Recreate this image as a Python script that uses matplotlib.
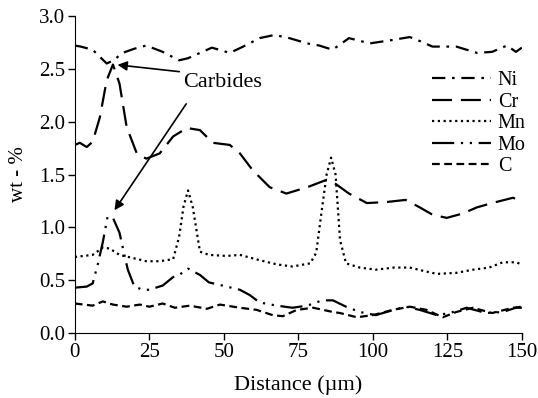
import matplotlib
matplotlib.use("Agg")
import matplotlib.pyplot as plt

plt.rcParams['font.family'] = ['Liberation Serif', 'DejaVu Serif']

ni_x = [0, 2, 6, 10.7, 13, 16, 20, 24, 29.5, 35, 38, 42, 46, 52, 56.5, 62, 67, 72, 78, 82, 86.5, 92, 99, 106, 112.4, 116, 120, 128, 135, 140, 145, 148, 150]
ni_y = [2.72, 2.71, 2.68, 2.55, 2.58, 2.65, 2.69, 2.72, 2.66, 2.58, 2.60, 2.65, 2.70, 2.65, 2.71, 2.79, 2.82, 2.79, 2.74, 2.72, 2.68, 2.79, 2.74, 2.77, 2.80, 2.76, 2.71, 2.71, 2.65, 2.66, 2.72, 2.66, 2.70]

cr_x = [0, 1.7, 4, 6, 8.4, 10.7, 12.8, 15, 17.4, 20.8, 24, 28.5, 33, 37.6, 42, 46.3, 52, 55.4, 59.7, 65.4, 71, 78, 84.5, 86.6, 92, 98, 104.6, 111, 115.7, 120, 124.8, 130, 135, 140, 147, 150]
cr_y = [1.78, 1.80, 1.76, 1.81, 2.04, 2.39, 2.54, 2.36, 1.95, 1.70, 1.65, 1.70, 1.86, 1.94, 1.92, 1.80, 1.78, 1.70, 1.54, 1.38, 1.32, 1.38, 1.45, 1.43, 1.32, 1.23, 1.24, 1.26, 1.19, 1.12, 1.09, 1.13, 1.19, 1.23, 1.28, 1.25]

mn_x = [0, 6, 9.4, 11.7, 15, 19.5, 24, 28.5, 33, 35, 36.5, 38, 39.6, 42, 45, 51, 55.4, 62, 67.8, 73, 79, 81, 83, 84.5, 86, 87.5, 89, 91, 95.6, 101, 107, 112.4, 116.8, 121.5, 128, 133.6, 139, 143.6, 148, 150]
mn_y = [0.72, 0.74, 0.81, 0.80, 0.74, 0.71, 0.68, 0.68, 0.70, 0.91, 1.20, 1.35, 1.19, 0.77, 0.74, 0.73, 0.74, 0.69, 0.65, 0.63, 0.66, 0.76, 1.19, 1.50, 1.66, 1.50, 0.88, 0.66, 0.62, 0.60, 0.62, 0.62, 0.59, 0.56, 0.57, 0.60, 0.62, 0.67, 0.67, 0.65]

mo_x = [0, 4, 6, 7.8, 9.4, 11, 12.8, 15, 16.8, 17.8, 20, 22.8, 25, 29.5, 33, 35, 38, 42, 45, 51, 55.4, 58.7, 62, 67.8, 73, 78, 83, 86.6, 91, 95.6, 101, 104.6, 111, 115.7, 121.5, 125.8, 131.5, 138, 143.6, 148, 150]
mo_y = [0.43, 0.44, 0.47, 0.66, 0.86, 1.10, 1.09, 0.95, 0.72, 0.60, 0.44, 0.41, 0.41, 0.45, 0.53, 0.55, 0.61, 0.55, 0.48, 0.44, 0.41, 0.36, 0.29, 0.26, 0.24, 0.26, 0.31, 0.31, 0.25, 0.20, 0.17, 0.20, 0.25, 0.22, 0.17, 0.19, 0.24, 0.19, 0.20, 0.24, 0.24]

c_x = [0, 6, 9.4, 12.8, 17.4, 21.8, 25, 29.5, 33.6, 38.6, 44.3, 48.7, 55.4, 61, 66.4, 69.8, 74.5, 80, 86.6, 89, 94.6, 100, 106.7, 112.4, 118, 123.5, 128, 133.6, 140, 147, 150]
c_y = [0.28, 0.26, 0.30, 0.27, 0.25, 0.27, 0.25, 0.28, 0.24, 0.26, 0.23, 0.27, 0.24, 0.22, 0.17, 0.16, 0.22, 0.24, 0.20, 0.19, 0.15, 0.17, 0.22, 0.25, 0.22, 0.15, 0.20, 0.24, 0.19, 0.24, 0.25]

x_ticks = [0, 25, 50, 75, 100, 125, 150]
y_ticks = [0.0, 0.5, 1.0, 1.5, 2.0, 2.5, 3.0]
y_tick_labels = ['0.0', '0.5', '1.0', '1.5', '2.0', '2.5', '3.0']

fig = plt.figure(figsize=(5.38, 3.98), dpi=100)
ax = fig.add_axes([0.139, 0.163, 0.831, 0.797])

lw = 1.6
ax.plot(ni_x, ni_y, color='black', lw=lw, linestyle=(0, (6, 3, 1.2, 3)), label='Ni')
ax.plot(cr_x, cr_y, color='black', lw=lw, linestyle=(0, (9, 4)), label='Cr')
ax.plot(mn_x, mn_y, color='black', lw=lw, linestyle=(0, (1, 1.6)), label='Mn')
ax.plot(mo_x, mo_y, color='black', lw=lw, linestyle=(0, (10, 3, 1, 3, 1, 3)), label='Mo')
ax.plot(c_x, c_y, color='black', lw=lw, linestyle=(0, (3.5, 2)), label='C')

ax.set_xlim(0, 150)
ax.set_ylim(0, 3.0)
ax.set_xticks(x_ticks)
ax.set_yticks(y_ticks)
ax.set_yticklabels(y_tick_labels)
ax.tick_params(labelsize=15, direction='out', length=5, width=1, pad=2)
for s in ['top', 'right']:
    ax.spines[s].set_visible(False)
ax.set_xlabel('Distance (µm)', fontsize=16, labelpad=10)
ax.set_ylabel('wt - %', fontsize=15, labelpad=8)

ax.text(36.2, 2.37, 'Carbides', fontsize=16, va='center', ha='left')
ax.annotate('', xy=(13.4, 2.54), xytext=(36, 2.47),
            arrowprops=dict(arrowstyle='-|>', color='black', lw=1.2, mutation_scale=14))
ax.annotate('', xy=(12.8, 1.14), xytext=(37.9, 2.19),
            arrowprops=dict(arrowstyle='-|>', color='black', lw=1.2, mutation_scale=14))

leg = ax.legend(loc='upper right', bbox_to_anchor=(1.04, 0.87), frameon=False,
                fontsize=14.5, handlelength=2.9, handletextpad=0.35, labelspacing=0.12,
                borderpad=0.2)

fig.savefig('out.png', dpi=100)
